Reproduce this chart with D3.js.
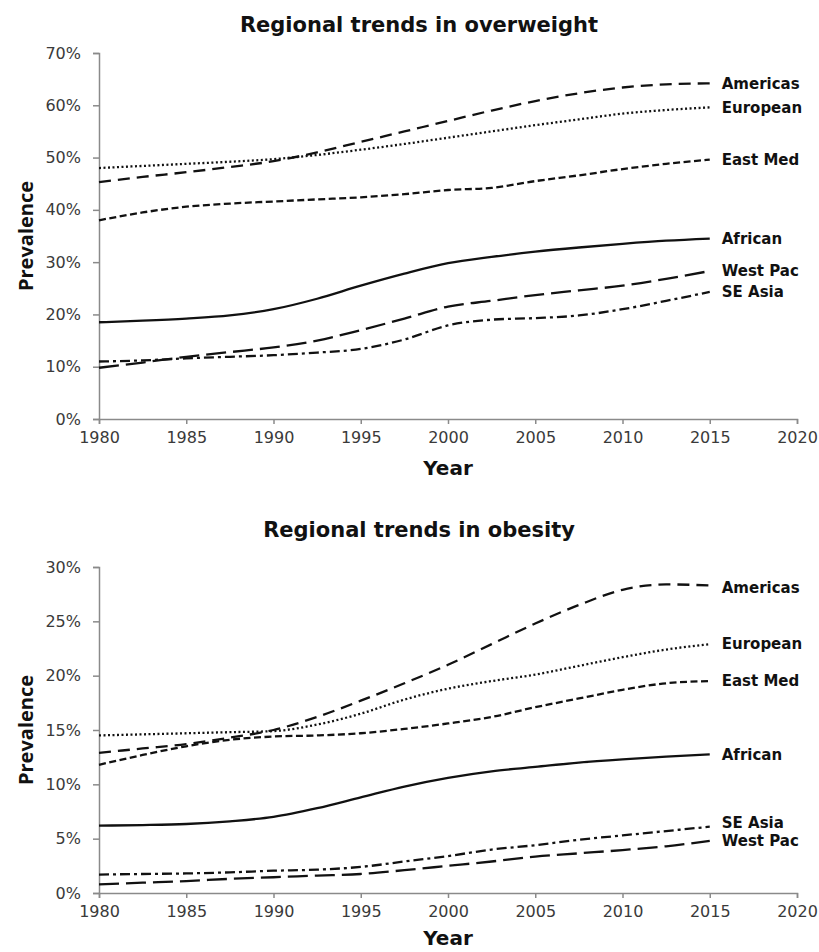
<!doctype HTML>
<html>
<head>
    <script src="https://d3js.org/d3.v7.min.js"></script>
    <style>
        body { margin: 0; background: #fff; }
        text { font-family: "DejaVu Sans", sans-serif; }
    </style>
</head>
<body>
<script>
    // years sampled every 2.5 years, values in %
    var years = [1980, 1982.5, 1985, 1987.5, 1990, 1992.5, 1995, 1997.5, 2000, 2002.5, 2005, 2007.5, 2010, 2012.5, 2015];
    var regions = ["Americas", "European", "East Med", "African", "West Pac", "SE Asia"];

    // overweight
    var owAmericas = [45.3, 46.3, 47.2, 48.2, 49.3, 51.0, 53.0, 55.0, 57.0, 59.0, 60.8, 62.3, 63.4, 64.0, 64.2];
    var owEuropean = [48.0, 48.4, 48.8, 49.2, 49.7, 50.5, 51.5, 52.6, 53.8, 55.0, 56.2, 57.3, 58.4, 59.1, 59.6];
    var owEastMed  = [38.0, 39.5, 40.6, 41.2, 41.6, 42.0, 42.4, 43.0, 43.8, 44.2, 45.5, 46.6, 47.8, 48.8, 49.6];
    var owAfrican  = [18.5, 18.8, 19.2, 19.8, 21.0, 23.0, 25.5, 27.8, 29.8, 31.0, 32.0, 32.8, 33.5, 34.1, 34.5];
    var owWestPac  = [9.8, 10.8, 11.9, 12.8, 13.7, 15.0, 17.0, 19.2, 21.5, 22.6, 23.7, 24.6, 25.5, 26.8, 28.3];
    var owSEAsia   = [11.0, 11.2, 11.6, 11.9, 12.2, 12.7, 13.4, 15.2, 17.9, 19.0, 19.3, 19.8, 21.0, 22.6, 24.3];

    // obesity
    var obAmericas = [12.9, 13.3, 13.7, 14.3, 15.0, 16.2, 17.7, 19.3, 21.0, 22.9, 24.8, 26.5, 27.9, 28.4, 28.3];
    var obEuropean = [14.5, 14.6, 14.7, 14.8, 14.9, 15.5, 16.5, 17.8, 18.8, 19.5, 20.1, 20.9, 21.7, 22.4, 22.9];
    var obEastMed  = [11.8, 12.7, 13.5, 14.1, 14.4, 14.5, 14.7, 15.1, 15.6, 16.2, 17.1, 17.9, 18.7, 19.3, 19.5];
    var obAfrican  = [6.2, 6.25, 6.35, 6.6, 7.0, 7.8, 8.8, 9.8, 10.6, 11.2, 11.6, 12.0, 12.3, 12.55, 12.75];
    var obWestPac  = [0.8, 0.95, 1.1, 1.3, 1.45, 1.6, 1.75, 2.1, 2.5, 2.9, 3.35, 3.65, 3.95, 4.3, 4.8];
    var obSEAsia   = [1.7, 1.75, 1.8, 1.9, 2.05, 2.15, 2.4, 2.9, 3.4, 4.0, 4.4, 4.9, 5.3, 5.7, 6.1];

    var xTicks = [1980, 1985, 1990, 1995, 2000, 2005, 2010, 2015, 2020];
    var owTicks = [0, 10, 20, 30, 40, 50, 60, 70];
    var obTicks = [0, 5, 10, 15, 20, 25, 30];

    var dashes = {
        "Americas": "12,7",
        "European": "2,2.5",
        "East Med": "7,3.5",
        "African": null,
        "West Pac": "20,7",
        "SE Asia": "10,4,3,4"
    };

    var svg = d3.select("body").append("svg")
        .attr("width", 819)
        .attr("height", 952);

    function drawPanel(opts) {
        var x = d3.scaleLinear().domain([1980, 2020]).range([99, 797]);
        var y = d3.scaleLinear().domain([0, d3.max(opts.ticks)]).range([opts.bottom, opts.top]);

        var g = svg.append("g");

        svg.append("text")
            .attr("x", 419)
            .attr("y", opts.titleY)
            .attr("text-anchor", "middle")
            .attr("font-size", "21px")
            .attr("font-weight", "bold")
            .attr("fill", "#111")
            .text(opts.title);

        // Y axis
        var yAxis = g.append("g")
            .attr("transform", "translate(99,0)")
            .call(d3.axisLeft(y).tickValues(opts.ticks).tickSize(6).tickPadding(12)
                .tickFormat(function(d) { return d + "%"; }));
        // X axis
        var xAxis = g.append("g")
            .attr("transform", "translate(0," + opts.bottom + ")")
            .call(d3.axisBottom(x).tickValues(xTicks).tickSize(5).tickPadding(8)
                .tickFormat(d3.format("d")));

        [yAxis, xAxis].forEach(function(a) {
            a.select(".domain").attr("stroke", "#8a8a8a").attr("stroke-width", 1.5);
            a.selectAll(".tick line").attr("stroke", "#8a8a8a").attr("stroke-width", 1.5);
            a.selectAll(".tick text")
                .attr("fill", "#3a3a3a")
                .attr("font-size", "16px")
                .style("font-family", "'DejaVu Sans', sans-serif");
        });

        svg.append("text")
            .attr("x", 448)
            .attr("y", opts.bottom + opts.yearGap)
            .attr("text-anchor", "middle")
            .attr("font-size", "20px")
            .attr("font-weight", "bold")
            .attr("fill", "#111")
            .text("Year");

        svg.append("text")
            .attr("transform", "translate(33," + ((opts.top + opts.bottom) / 2) + ") rotate(-90)")
            .attr("text-anchor", "middle")
            .attr("font-size", "20px")
            .attr("font-weight", "bold")
            .style("font-family", "'Open Sans', sans-serif")
            .attr("fill", "#111")
            .text("Prevalence");

        var line = d3.line()
            .x(function(d) { return x(d.year); })
            .y(function(d) { return y(d.value); })
            .curve(d3.curveMonotoneX);

        regions.forEach(function(r, i) {
            var pts = years.map(function(yr, j) { return { year: yr, value: opts.series[i][j] }; });
            g.append("path")
                .datum(pts)
                .attr("fill", "none")
                .attr("stroke", "#111")
                .attr("stroke-width", 2.3)
                .attr("stroke-dasharray", dashes[r])
                .attr("d", line);

            var last = pts[pts.length - 1];
            svg.append("text")
                .attr("x", x(2015) + 12)
                .attr("y", y(last.value) + (opts.nudge[r] || 0))
                .attr("dy", "0.35em")
                .attr("font-size", "15px")
                .attr("font-weight", "bold")
                .attr("fill", "#111")
                .text(r);
        });
    }

    drawPanel({
        title: "Regional trends in overweight",
        titleY: 32,
        top: 53,
        bottom: 419,
        yearGap: 56,
        ticks: owTicks,
        series: [owAmericas, owEuropean, owEastMed, owAfrican, owWestPac, owSEAsia],
        nudge: {}
    });

    drawPanel({
        title: "Regional trends in obesity",
        titleY: 537,
        top: 567,
        bottom: 893,
        yearGap: 52,
        ticks: obTicks,
        series: [obAmericas, obEuropean, obEastMed, obAfrican, obWestPac, obSEAsia],
        nudge: { "SE Asia": -4, "Americas": 2 }
    });
</script>
</body>
</html>
